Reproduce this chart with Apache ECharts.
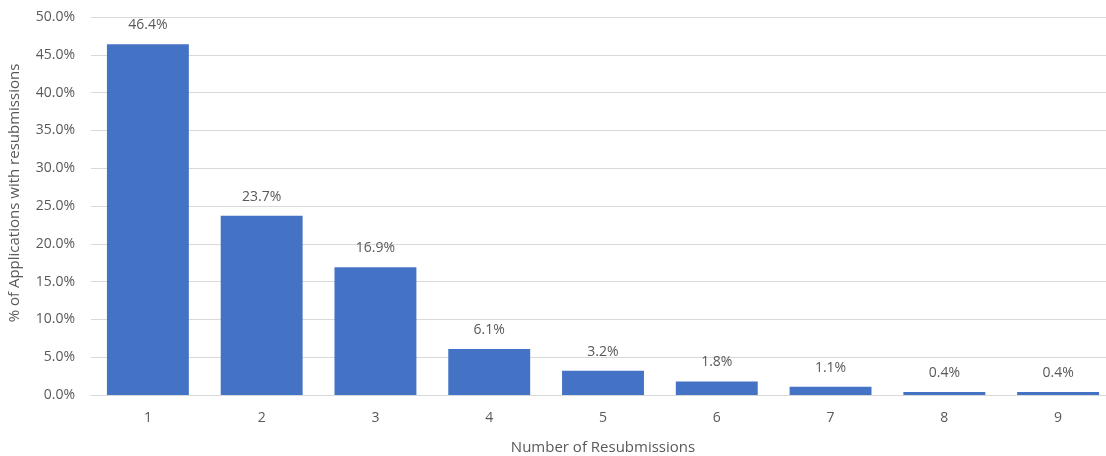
<!DOCTYPE html>
<html>
<head>
<meta charset="utf-8">
<script src="https://cdn.jsdelivr.net/npm/echarts@6/dist/echarts.min.js"></script>
<style>
  html, body { margin: 0; padding: 0; background: #fff; }
  #chart { width: 1106px; height: 456px; }
</style>
</head>
<body>
<div id="chart"></div>
<script>
// data
const categories = ["1", "2", "3", "4", "5", "6", "7", "8", "9"];
const shares = [46.4, 23.7, 16.9, 6.1, 3.2, 1.8, 1.1, 0.4, 0.4];

const textColor = "#595959";
const gridColor = "#d9d9d9";

const chart = echarts.init(document.getElementById("chart"));
chart.setOption({
  animation: false,
  textStyle: { fontFamily: "Open Sans, sans-serif" },
  // plot runs a bit past the right edge, as in the source image
  grid: { left: 91, right: -9, top: 17, bottom: 61, outerBoundsMode: "none" },
  xAxis: {
    type: "category",
    data: categories,
    name: "Number of Resubmissions",
    nameLocation: "middle",
    nameGap: 45,
    nameTextStyle: { color: textColor, fontSize: 15 },
    axisLine: { lineStyle: { color: gridColor } },
    axisTick: { show: false },
    axisLabel: { color: textColor, fontSize: 14, margin: 16 }
  },
  yAxis: {
    type: "value",
    min: 0,
    max: 50,
    interval: 5,
    name: "% of Applications with resubmissions",
    nameLocation: "middle",
    nameGap: 69,
    nameTextStyle: { color: textColor, fontSize: 15, padding: [0, 0, 0, 26] },
    axisLine: { show: false },
    axisTick: { show: false },
    splitLine: { lineStyle: { color: gridColor } },
    axisLabel: {
      color: textColor,
      fontSize: 14,
      margin: 16,
      formatter: v => v.toFixed(1) + "%"
    }
  },
  series: [{
    type: "bar",
    data: shares,
    barCategoryGap: "28%",
    itemStyle: { color: "#4472c4" },
    label: {
      show: true,
      position: "top",
      distance: 12,
      color: textColor,
      fontSize: 14,
      formatter: p => p.value.toFixed(1) + "%"
    }
  }]
});
</script>
</body>
</html>
